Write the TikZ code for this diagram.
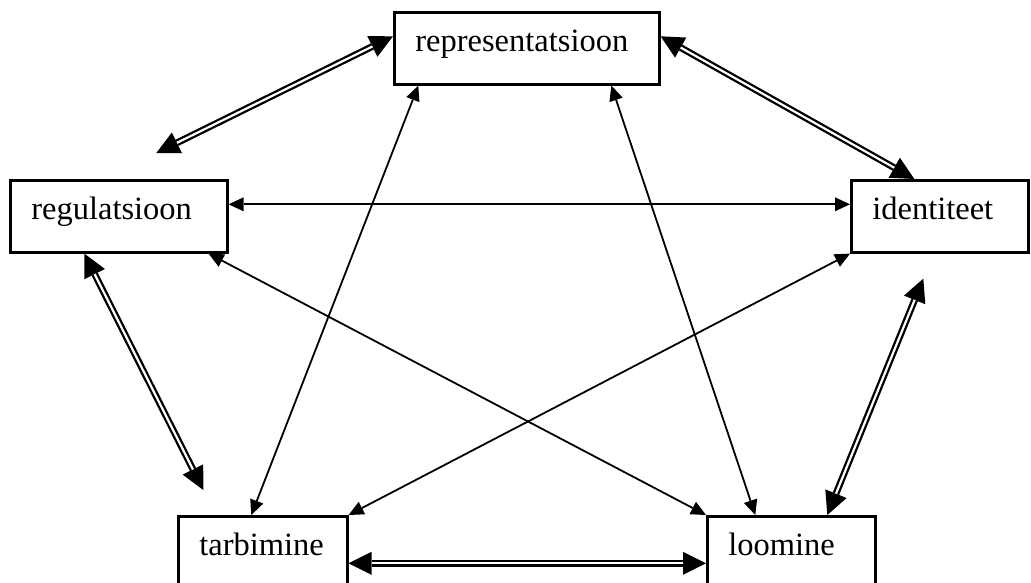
\documentclass[tikz,border=0pt]{standalone}
\usepackage{fontspec}
\setmainfont{Liberation Serif}
\usetikzlibrary{arrows.meta}
\begin{document}
\begin{tikzpicture}[x=1pt,y=-1pt,
  box/.style={draw, line width=2.6pt, anchor=north west, inner xsep=21pt, inner ysep=0pt,
    text height=39pt, text depth=33pt, align=left, font=\fontsize{32.5}{38}\selectfont},
  thinarr/.style={line width=1.8pt, >={Triangle[length=15pt,width=14pt,line width=0pt]}, <->},
  dblarr/.style={line width=6.8pt, >={Triangle[length=23pt,width=23pt,line width=0pt]}, <->,
    postaction={draw=white, line width=2.2pt, shorten <=23pt, shorten >=23pt, arrows=-}}]
\useasboundingbox (0,0) rectangle (1031,583);
\node[box, text width=223pt] (rep) at (393,11) {representatsioon};
\node[box, text width=175pt] (reg) at (9,179) {regulatsioon};
\node[box, text width=135pt] (ide) at (850,179) {identiteet};
\node[box, text width=127pt] (tar) at (177,515) {tarbimine};
\node[box, text width=126pt] (loo) at (706,515) {loomine};
% double connectors (pentagon sides)
\draw[dblarr] ([yshift=12pt]rep.west) -- ([xshift=37.5pt,yshift=26pt]reg.north);
\draw[dblarr] ([yshift=12pt]rep.east) -- ([xshift=-25.5pt]ide.north);
\draw[dblarr] ([xshift=-34.5pt]reg.south) -- ([xshift=-59.5pt,yshift=25pt]tar.north);
\draw[dblarr] ([xshift=-16.5pt,yshift=-25pt]ide.south) -- ([xshift=36pt]loo.north);
\draw[dblarr] ([yshift=-11pt]tar.east) -- ([yshift=-11pt]loo.west);
% thin connectors (diagonals)
\draw[thinarr] ([yshift=12pt]reg.east) -- ([yshift=12pt]ide.west);
\draw[thinarr] ([xshift=-108.5pt]rep.south) -- ([xshift=-11.5pt]tar.north);
\draw[thinarr] ([xshift=84.5pt]rep.south) -- ([xshift=-36pt]loo.north);
\draw[thinarr] ([xshift=-20pt]reg.south east) -- (loo.north west);
\draw[thinarr] (ide.south west) -- (tar.north east);
\end{tikzpicture}
\end{document}
